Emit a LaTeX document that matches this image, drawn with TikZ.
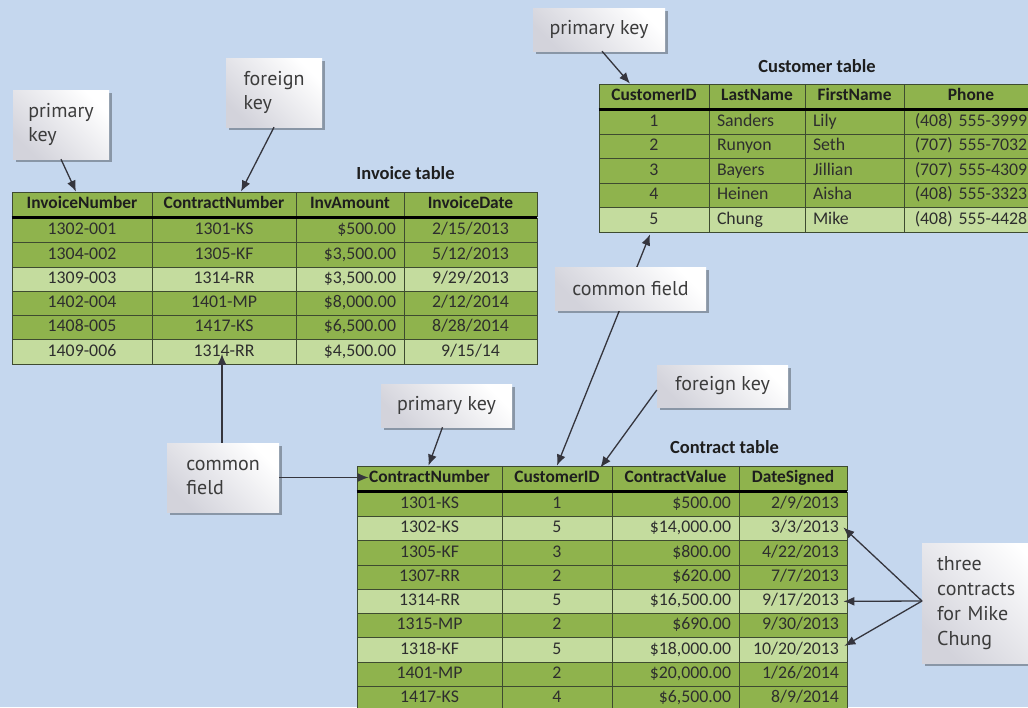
\documentclass[tikz,border=0pt]{standalone}
\usepackage{fontspec}
\usetikzlibrary{calc,shadows,arrows.meta}
\newfontfamily\tabfont{Carlito}
\newfontfamily\calfont{PT Sans}
\definecolor{bg}{HTML}{C5D7EE}
\definecolor{dkg}{HTML}{8FB34D}
\definecolor{ltg}{HTML}{C4DC9E}
\definecolor{gridc}{HTML}{3E4B30}
\definecolor{cellt}{HTML}{2E2E2E}
\definecolor{headt}{HTML}{1E1E1E}
\definecolor{calt}{HTML}{3C3C3C}
\definecolor{calg}{HTML}{D3D3DB}
\definecolor{arrc}{HTML}{35353D}
\tikzset{
  cell/.style={draw=gridc, line width=0.8pt, inner ysep=0pt, inner xsep=8pt,
    text height=12pt, text depth=3.5pt,
    font=\tabfont\fontsize{17.8}{19}\selectfont, text=cellt},
  hcell/.style={cell, font=\tabfont\bfseries\fontsize{17.4}{19}\selectfont, text=headt},
  callout/.style={inner sep=0pt, top color=white, bottom color=calg, shading angle=-45,
    drop shadow={shadow xshift=2.5pt, shadow yshift=-3pt, fill=black, opacity=0.3},
    font=\calfont\fontsize{20}{24.5}\selectfont, text=calt},
  arr/.style={draw=arrc, line width=1.3pt, -{Latex[length=11pt,width=9pt]}},
  arrboth/.style={draw=arrc, line width=1.3pt, {Latex[length=11pt,width=9pt]}-{Latex[length=11pt,width=9pt]}},
  ttl/.style={font=\tabfont\bfseries\fontsize{18.5}{20}\selectfont, text=headt},
  thick line/.style={line width=3pt, black}
}
% name, style, x0, x1, ymid, h, align, fill, text
\newcommand\mkcell[9]{%
  \pgfmathsetmacro\cellw{#4-#3-16}%
  \node[#2, fill=#8, align=#7, text width=\cellw pt, minimum height=#6pt] (#1) at ({(#3+#4)/2},#5) {#9};}
\newcommand\invrow[6]{%
  \pgfmathsetmacro\ym{218.5+24.25*(#1-1)+12.125}%
  \mkcell{inv-#1-1}{cell}{12}{152}{\ym}{24.25}{center}{#2}{#3}
  \mkcell{inv-#1-2}{cell}{152}{296}{\ym}{24.25}{center}{#2}{#4}
  \mkcell{inv-#1-3}{cell}{296}{404}{\ym}{24.25}{right}{#2}{#5}
  \mkcell{inv-#1-4}{cell}{404}{537}{\ym}{24.25}{center}{#2}{#6}}
\newcommand\custrow[6]{%
  \pgfmathsetmacro\ym{110+24.4*(#1-1)+12.2}%
  \mkcell{cust-#1-1}{cell}{599}{709}{\ym}{24.4}{center}{#2}{#3}
  \mkcell{cust-#1-2}{cell}{709}{805}{\ym}{24.4}{left}{#2}{#4}
  \mkcell{cust-#1-3}{cell}{805}{904}{\ym}{24.4}{left}{#2}{#5}
  \mkcell{cust-#1-4}{cell}{904}{1038}{\ym}{24.4}{center}{#2}{#6}}
\newcommand\conrow[6]{%
  \pgfmathsetmacro\ym{492+24.3*(#1-1)+12.15}%
  \mkcell{con-#1-1}{cell}{357}{502}{\ym}{24.3}{center}{#2}{#3}
  \mkcell{con-#1-2}{cell}{502}{612}{\ym}{24.3}{center}{#2}{#4}
  \mkcell{con-#1-3}{cell}{612}{739}{\ym}{24.3}{right}{#2}{#5}
  \mkcell{con-#1-4}{cell}{739}{847}{\ym}{24.3}{right}{#2}{#6}}
\begin{document}
\begin{tikzpicture}[x=1pt,y=-1pt]
\useasboundingbox (0,0) rectangle (1028,707);
\clip (0,0) rectangle (1028,707);
\fill[bg] (0,0) rectangle (1028,707);

% ---------- Invoice table ----------
\node[ttl] (invtitle) at (405.5,173) {Invoice table};
\mkcell{inv-h-1}{hcell}{12}{152}{204}{24}{center}{dkg}{InvoiceNumber}
\mkcell{inv-h-2}{hcell}{152}{296}{204}{24}{center}{dkg}{ContractNumber}
\mkcell{inv-h-3}{hcell}{296}{404}{204}{24}{center}{dkg}{InvAmount}
\mkcell{inv-h-4}{hcell}{404}{537}{204}{24}{center}{dkg}{InvoiceDate}
\invrow{1}{dkg}{1302-001}{1301-KS}{\$500.00}{2/15/2013}
\invrow{2}{dkg}{1304-002}{1305-KF}{\$3,500.00}{5/12/2013}
\invrow{3}{ltg}{1309-003}{1314-RR}{\$3,500.00}{9/29/2013}
\invrow{4}{dkg}{1402-004}{1401-MP}{\$8,000.00}{2/12/2014}
\invrow{5}{dkg}{1408-005}{1417-KS}{\$6,500.00}{8/28/2014}
\invrow{6}{ltg}{1409-006}{1314-RR}{\$4,500.00}{9/15/14}
\draw[thick line] ($(inv-h-1.south west)+(0,1)$) -- ($(inv-h-4.south east)+(0,1)$);

% ---------- Customer table ----------
\node[ttl] (custtitle) at (817,66) {Customer table};
\mkcell{cust-h-1}{hcell}{599}{709}{96}{24}{center}{dkg}{CustomerID}
\mkcell{cust-h-2}{hcell}{709}{805}{96}{24}{center}{dkg}{LastName}
\mkcell{cust-h-3}{hcell}{805}{904}{96}{24}{center}{dkg}{FirstName}
\mkcell{cust-h-4}{hcell}{904}{1038}{96}{24}{center}{dkg}{Phone}
\custrow{1}{dkg}{1}{Sanders}{Lily}{(408) 555-3999}
\custrow{2}{dkg}{2}{Runyon}{Seth}{(707) 555-7032}
\custrow{3}{dkg}{3}{Bayers}{Jillian}{(707) 555-4309}
\custrow{4}{dkg}{4}{Heinen}{Aisha}{(408) 555-3323}
\custrow{5}{ltg}{5}{Chung}{Mike}{(408) 555-4428}
\draw[thick line] ($(cust-h-1.south west)+(0,1)$) -- ($(cust-h-4.south east)+(0,1)$);

% ---------- Contract table ----------
\node[ttl] (contitle) at (724.5,447) {Contract table};
\mkcell{con-h-1}{hcell}{357}{502}{478}{24}{center}{dkg}{ContractNumber}
\mkcell{con-h-2}{hcell}{502}{612}{478}{24}{center}{dkg}{CustomerID}
\mkcell{con-h-3}{hcell}{612}{739}{478}{24}{center}{dkg}{ContractValue}
\mkcell{con-h-4}{hcell}{739}{847}{478}{24}{center}{dkg}{DateSigned}
\conrow{1}{dkg}{1301-KS}{1}{\$500.00}{2/9/2013}
\conrow{2}{ltg}{1302-KS}{5}{\$14,000.00}{3/3/2013}
\conrow{3}{dkg}{1305-KF}{3}{\$800.00}{4/22/2013}
\conrow{4}{dkg}{1307-RR}{2}{\$620.00}{7/7/2013}
\conrow{5}{ltg}{1314-RR}{5}{\$16,500.00}{9/17/2013}
\conrow{6}{dkg}{1315-MP}{2}{\$690.00}{9/30/2013}
\conrow{7}{ltg}{1318-KF}{5}{\$18,000.00}{10/20/2013}
\conrow{8}{dkg}{1401-MP}{2}{\$20,000.00}{1/26/2014}
\conrow{9}{dkg}{1417-KS}{4}{\$6,500.00}{8/9/2014}
\draw[thick line] ($(con-h-1.south west)+(0,1)$) -- ($(con-h-4.south east)+(0,1)$);

% common field line (passes behind its callout)
\draw[arrboth] (con-h-2.north) -- ($(cust-5-1.south)+(-4,2)$);

% ---------- callouts ----------
\node[callout, minimum width=96pt, minimum height=69pt, align=left] (pkInv) at (61,124.5) {primary\\key};
\node[callout, minimum width=96pt, minimum height=69pt, align=left] (fkInv) at (274,92.5) {foreign\\key};
\node[callout, minimum width=132pt, minimum height=43pt] (pkCust) at (599,29.5) {primary key};
\node[callout, minimum width=151pt, minimum height=43pt] (cfTop) at (630.5,288.5) {common field};
\node[callout, minimum width=131pt, minimum height=42pt] (fkCon) at (722.5,386) {foreign key};
\node[callout, minimum width=131pt, minimum height=43pt] (pkCon) at (446.5,405.5) {primary key};
\node[callout, minimum width=112pt, minimum height=69pt, align=left] (cfBot) at (223,477.5) {common\\field};
\node[callout, anchor=west, inner xsep=15pt, text width=100pt, minimum height=120pt, align=left,
  font=\calfont\fontsize{20}{25}\selectfont] (three) at (922,603) {three\\contracts\\for Mike\\Chung};

% ---------- arrows ----------
\draw[arr] (pkInv.south) -- ($(inv-h-1.north)+(-6,0)$);
\draw[arr] (fkInv.south) -- ($(inv-h-2.north)+(17,0)$);
\draw[arr] ($(pkCust.south)+(3,0)$) -- ($(cust-h-1.north)+(-24,0)$);
\draw[arr] ($(fkCon.west)+(0,4)$) -- ($(con-h-2.north east)+(-12,2)$);
\draw[arr] ($(pkCon.south)+(-4,0)$) -- ($(con-h-1.north)+(-1,0)$);
\coordinate (cftip) at ($(inv-6-2.center)+(-2,2)$);
\draw[arr] (cfBot.north -| cftip) -- (cftip);
\coordinate (contip) at ($(con-h-1.west)+(12,0)$);
\draw[arr] (cfBot.east) -- (cfBot.east -| contip);
\coordinate (thst) at ($(three.west)+(0,-2)$);
\draw[arr] (thst) -- ($(con-2-4.east)+(-4,-1)$);
\draw[arr] (thst) -- ($(con-5-4.east)+(-4,0)$);
\draw[arr] (thst) -- ($(con-7-4.east)+(-3,-4)$);
\end{tikzpicture}
\end{document}
